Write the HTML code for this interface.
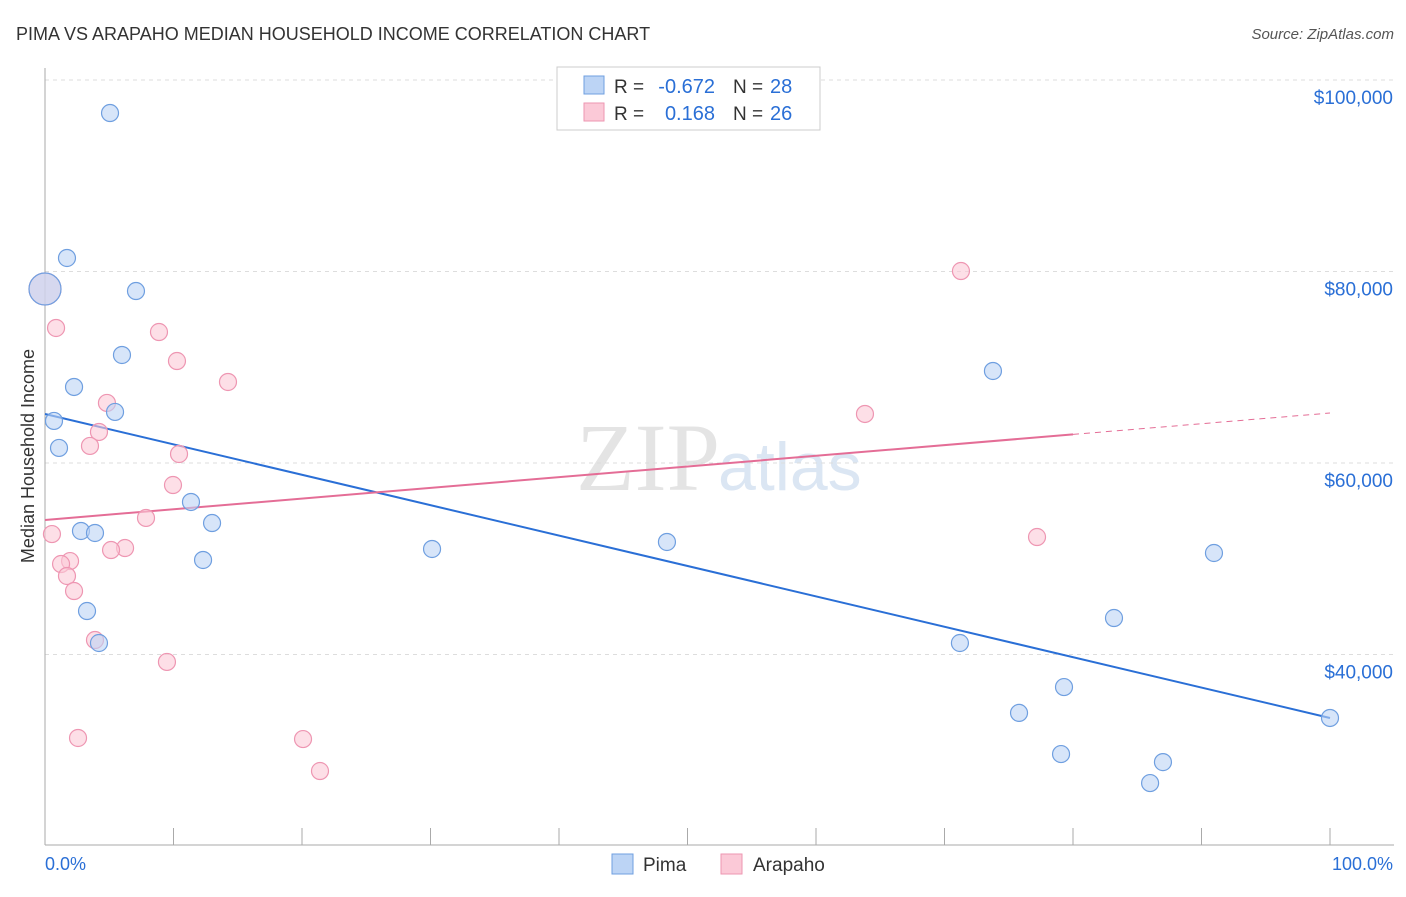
<!DOCTYPE html>
<html><head><meta charset="utf-8"><style>
body{margin:0;background:#fff;font-family:"Liberation Sans",sans-serif;}
</style></head><body>
<svg id="c" width="1406" height="892" xmlns="http://www.w3.org/2000/svg" font-family="Liberation Sans, sans-serif">
<text x="16" y="40" font-size="18" fill="#333">PIMA VS ARAPAHO MEDIAN HOUSEHOLD INCOME CORRELATION CHART</text>
<text x="1394" y="39" font-size="15" fill="#555" font-style="italic" text-anchor="end">Source: ZipAtlas.com</text>
<text x="720" y="490" font-size="96" fill="#e4e4e4" text-anchor="end" font-family="Liberation Serif, serif">ZIP</text>
<text x="718" y="490" font-size="68" fill="#dbe6f3">atlas</text>
<text x="34" y="456" font-size="18" fill="#333" text-anchor="middle" transform="rotate(-90 34 456)">Median Household Income</text>
<g id="grid"></g><g id="axes"></g><g id="lines"></g><g id="pts"></g>
<g>
<rect x="557" y="67" width="263" height="63" fill="#fff" stroke="#ccc"/>
<rect x="584" y="76" width="20" height="18" fill="#bcd4f5" stroke="#6f9fe0"/>
<rect x="584" y="103" width="20" height="18" fill="#fbc9d7" stroke="#ee96b2"/>
<text x="614" y="93" font-size="19" fill="#333">R =</text>
<text x="715" y="93" font-size="20" fill="#2a6fd6" text-anchor="end">-0.672</text>
<text x="733" y="93" font-size="19" fill="#333">N =</text>
<text x="770" y="93" font-size="20" fill="#2a6fd6">28</text>
<text x="614" y="120" font-size="19" fill="#333">R =</text>
<text x="715" y="120" font-size="20" fill="#2a6fd6" text-anchor="end">0.168</text>
<text x="733" y="120" font-size="19" fill="#333">N =</text>
<text x="770" y="120" font-size="20" fill="#2a6fd6">26</text>
</g>
<g>
<rect x="612" y="854" width="21" height="20" fill="#bcd4f5" stroke="#6f9fe0"/>
<text x="643" y="871" font-size="19" fill="#333">Pima</text>
<rect x="721" y="854" width="21" height="20" fill="#fbc9d7" stroke="#ee96b2"/>
<text x="753" y="871" font-size="19" fill="#333">Arapaho</text>
</g>
<text x="45" y="870" font-size="18" fill="#2a6fd6">0.0%</text>
<text x="1393" y="870" font-size="18" fill="#2a6fd6" text-anchor="end">100.0%</text>
</svg>
<script>
const yTicks=[40000,60000,80000,100000];
const yTickLabels=["$40,000","$60,000","$80,000","$100,000"];
const pimaX=[5.06,1.71,0,7.08,5.99,2.26,0.70,5.45,1.09,11.36,13.0,2.80,3.89,12.3,3.27,4.2,30.12,48.4,73.77,71.2,90.97,83.19,79.3,75.8,79.07,87.0,86.0,100];
const pimaY=[96.55,81.41,78.17,77.96,71.28,67.94,64.39,65.33,61.57,55.93,53.73,52.9,52.69,49.87,44.54,41.2,51.02,51.75,69.61,41.2,50.6,43.81,36.6,33.9,29.6,28.76,26.57,33.37];
const araX=[0,0.86,8.87,10.27,14.24,4.82,4.2,3.5,10.43,9.96,7.86,0.54,6.23,5.14,1.95,1.25,1.71,2.26,3.89,9.49,2.57,20.08,21.4,71.28,63.81,77.2];
const araY=[78.17,74.1,73.68,70.65,68.46,66.27,63.24,61.78,60.94,57.7,54.26,52.58,51.12,50.91,49.76,49.45,48.2,46.63,41.51,39.22,31.28,31.17,27.83,80.05,65.12,52.27];
const pimaTrend=[65.12,33.37];
const araTrend=[54.05,65.22];
const X=p=>45+p*12.85, Y=k=>80+(100-k)/0.10444;
const NS="http://www.w3.org/2000/svg";
function mk(parent,tag,attrs){const e=document.createElementNS(NS,tag);for(const k in attrs)e.setAttribute(k,attrs[k]);document.getElementById(parent).appendChild(e);return e;}
yTicks.forEach((v,i)=>{const y=Y(v/1000);
const l=mk('grid','line',{x1:45,x2:1394,y1:y,y2:y,stroke:'#ddd','stroke-dasharray':'4,4'});


const t=mk('grid','text',{x:1393,y:y+24,'font-size':19,fill:'#2a6fd6','text-anchor':'end'});t.textContent=yTickLabels[i];

});
let ax=mk('axes','line',{x1:45,x2:1394,y1:845,y2:845,stroke:'#aaa'});


let ay=mk('axes','line',{x1:45,x2:45,y1:68,y2:845,stroke:'#aaa'});


for(let i=0;i<=10;i++){const t=mk('axes','line',{x1:X(i*10),x2:X(i*10),y1:828,y2:845,stroke:'#aaa'});

}
let bl=mk('lines','line',{x1:X(0),y1:Y(pimaTrend[0]),x2:X(100),y2:Y(pimaTrend[1]),stroke:'#2a6fd6','stroke-width':2});


const a80=araTrend[0]+(araTrend[1]-araTrend[0])*0.8;
let pl=mk('lines','line',{x1:X(0),y1:Y(araTrend[0]),x2:X(80),y2:Y(a80),stroke:'#e46d96','stroke-width':2});


let pd=mk('lines','line',{x1:X(80),y1:Y(a80),x2:X(100),y2:Y(araTrend[1]),stroke:'#e46d96','stroke-width':1,'stroke-dasharray':'6,5'});


function pts(xs,ys,fill,stroke,name){xs.forEach((x,i)=>{const c=mk('pts','circle',{cx:X(x),cy:Y(ys[i]),r:(x===0&&ys[i]>78)?16:8.5,fill:fill,stroke:stroke,'stroke-width':1.2,'fill-opacity':0.6});

});}
pts(araX,araY,'#fbc9d7','#ee96b2','arapaho-point');
pts(pimaX,pimaY,'#bcd4f5','#6f9fe0','pima-point');
</script>
</body></html>
